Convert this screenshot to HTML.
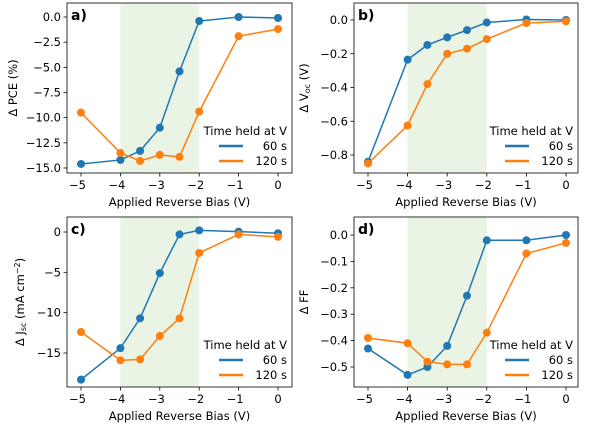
<!DOCTYPE html>
<html><head><meta charset="utf-8"><style>
body{margin:0;background:#fff}
svg{display:block;font-family:"DejaVu Sans","Liberation Sans",sans-serif}
</style></head><body>
<svg id="fig" width="600" height="428" viewBox="0 0 600 428" xmlns="http://www.w3.org/2000/svg"></svg>
<script>
const xVals=[-5,-4,-3.5,-3,-2.5,-2,-1,0];
const xTicks=[-5,-4,-3,-2,-1,0];
const pceTicks=[0,-2.5,-5,-7.5,-10,-12.5,-15];
const pceTickLabels=["0.0","\u22122.5","\u22125.0","\u22127.5","\u221210.0","\u221212.5","\u221215.0"];
const pce60=[-14.6,-14.2,-13.3,-11.0,-5.4,-0.4,0.0,-0.1];
const pce120=[-9.5,-13.5,-14.3,-13.7,-13.9,-9.4,-1.9,-1.2];
const vocTicks=[0,-0.2,-0.4,-0.6,-0.8];
const vocTickLabels=["0.0","\u22120.2","\u22120.4","\u22120.6","\u22120.8"];
const voc60=[-0.84,-0.235,-0.148,-0.103,-0.06,-0.015,0.003,0.0];
const voc120=[-0.85,-0.625,-0.38,-0.2,-0.17,-0.113,-0.018,-0.008];
const jscTicks=[0,-5,-10,-15];
const jscTickLabels=["0","\u22125","\u221210","\u221215"];
const jsc60=[-18.3,-14.4,-10.7,-5.1,-0.3,0.2,0.05,-0.15];
const jsc120=[-12.4,-15.9,-15.8,-12.9,-10.7,-2.6,-0.3,-0.6];
const ffTicks=[0,-0.1,-0.2,-0.3,-0.4,-0.5];
const ffTickLabels=["0.0","\u22120.1","\u22120.2","\u22120.3","\u22120.4","\u22120.5"];
const ff60=[-0.43,-0.53,-0.50,-0.42,-0.23,-0.02,-0.02,0.0];
const ff120=[-0.39,-0.41,-0.48,-0.49,-0.49,-0.37,-0.07,-0.03];
const shadeRange=[-4,-2];

const NS="http://www.w3.org/2000/svg";
const svg=document.getElementById('fig');
function el(tag,attrs,parent,text){const e=document.createElementNS(NS,tag);for(const k in attrs)e.setAttribute(k,attrs[k]);if(text!==undefined)e.textContent=text;(parent||svg).appendChild(e);return e;}
const FS=11.5;
const panels=[
 {key:'pce',lab:'a)',L:67,R:292,T:3,B:173,x0:81,x1:278,yv0:0,yp0:17,yv1:-15,yp1:168,ticks:pceTicks,tl:pceTickLabels,s60:pce60,s120:pce120,ylab:'\u0394 PCE (%)',ylx:17},
 {key:'voc',lab:'b)',L:354,R:578,T:3,B:173,x0:368,x1:566,yv0:0,yp0:20,yv1:-0.8,yp1:155,ticks:vocTicks,tl:vocTickLabels,s60:voc60,s120:voc120,ylab:'voc',ylx:308},
 {key:'jsc',lab:'c)',L:67,R:292,T:217,B:387,x0:81,x1:278,yv0:0,yp0:232,yv1:-15,yp1:353,ticks:jscTicks,tl:jscTickLabels,s60:jsc60,s120:jsc120,ylab:'jsc',ylx:24},
 {key:'ff',lab:'d)',L:354,R:578,T:217,B:387,x0:368,x1:566,yv0:0,yp0:235,yv1:-0.5,yp1:367,ticks:ffTicks,tl:ffTickLabels,s60:ff60,s120:ff120,ylab:'\u0394 FF',ylx:308}
];
panels.forEach(p=>{
 const g=el('g',{});
 
 
 const X=v=>p.x0+(v+5)/5*(p.x1-p.x0);
 const Y=v=>p.yp0+(v-p.yv0)/(p.yv1-p.yv0)*(p.yp1-p.yp0);
 const sh=el('rect',{x:X(shadeRange[0]),y:p.T,width:X(shadeRange[1])-X(shadeRange[0]),height:p.B-p.T,fill:'#eaf4e4'},g);
 
 
 xTicks.forEach(t=>{el('line',{x1:X(t),x2:X(t),y1:p.B,y2:p.B+3.5,stroke:'#000','stroke-width':0.8},g);
  const tx=el('text',{x:X(t)-(t<0?3.5:0),y:p.B+16,'font-size':FS,'text-anchor':'middle'},g,t<0?'\u2212'+(-t):String(t));
  });
 p.ticks.forEach((t,i)=>{el('line',{x1:p.L-3.5,x2:p.L,y1:Y(t),y2:Y(t),stroke:'#000','stroke-width':0.8},g);
  const tx=el('text',{x:p.L-6,y:Y(t)+4,'font-size':FS,'text-anchor':'end'},g,p.tl[i]);
  });
 [[p.s60,'#1f77b4','series-60s'],[p.s120,'#ff7f0e','series-120s']].forEach(([s,c,n])=>{
  const pl=el('polyline',{points:s.map((v,i)=>X(xVals[i])+','+Y(v)).join(' '),fill:'none',stroke:c,'stroke-width':1.5},g);
  
  s.forEach((v,i)=>{const m=el('circle',{cx:X(xVals[i]),cy:Y(v),r:4,fill:c},g);
   });
 });
 el('rect',{x:p.L,y:p.T,width:p.R-p.L,height:p.B-p.T,fill:'none',stroke:'#000','stroke-width':0.8},g);
 const pl=el('text',{x:p.L+4,y:p.T+17,'font-size':14,'font-weight':'bold'},g,p.lab);
 
 const xl=el('text',{x:(p.L+p.R)/2,y:p.B+33,'font-size':FS,'text-anchor':'middle'},g,'Applied Reverse Bias (V)');
 
 const cy=(p.T+p.B)/2;
 const yl=el('text',{x:p.ylx,y:cy,'font-size':FS,'text-anchor':'middle',transform:`rotate(-90 ${p.ylx} ${cy})`},g);
 
 if(p.ylab==='voc'){yl.textContent='\u0394 V';el('tspan',{'font-size':8,dy:2},yl,'oc');el('tspan',{dy:-2},yl,' (V)');}
 else if(p.ylab==='jsc'){yl.textContent='\u0394 J';el('tspan',{'font-size':8,dy:2},yl,'sc');el('tspan',{dy:-2},yl,' (mA cm');el('tspan',{'font-size':8,dy:-4},yl,'\u22122');el('tspan',{dy:4},yl,')');}
 else yl.textContent=p.ylab;
 const lg=el('g',{},g);
 
 const lr=p.R-5, ly=p.B-42;
 el('text',{x:lr,y:ly+4,'font-size':FS,'text-anchor':'end'},lg,'Time held at V');
 el('line',{x1:lr-68,x2:lr-44,y1:ly+15,y2:ly+15,stroke:'#1f77b4','stroke-width':2.5},lg);
 el('text',{x:lr,y:ly+19,'font-size':FS,'text-anchor':'end'},lg,'60 s');
 el('line',{x1:lr-68,x2:lr-44,y1:ly+30,y2:ly+30,stroke:'#ff7f0e','stroke-width':2.5},lg);
 el('text',{x:lr,y:ly+34,'font-size':FS,'text-anchor':'end'},lg,'120 s');
});
</script>
</body></html>
